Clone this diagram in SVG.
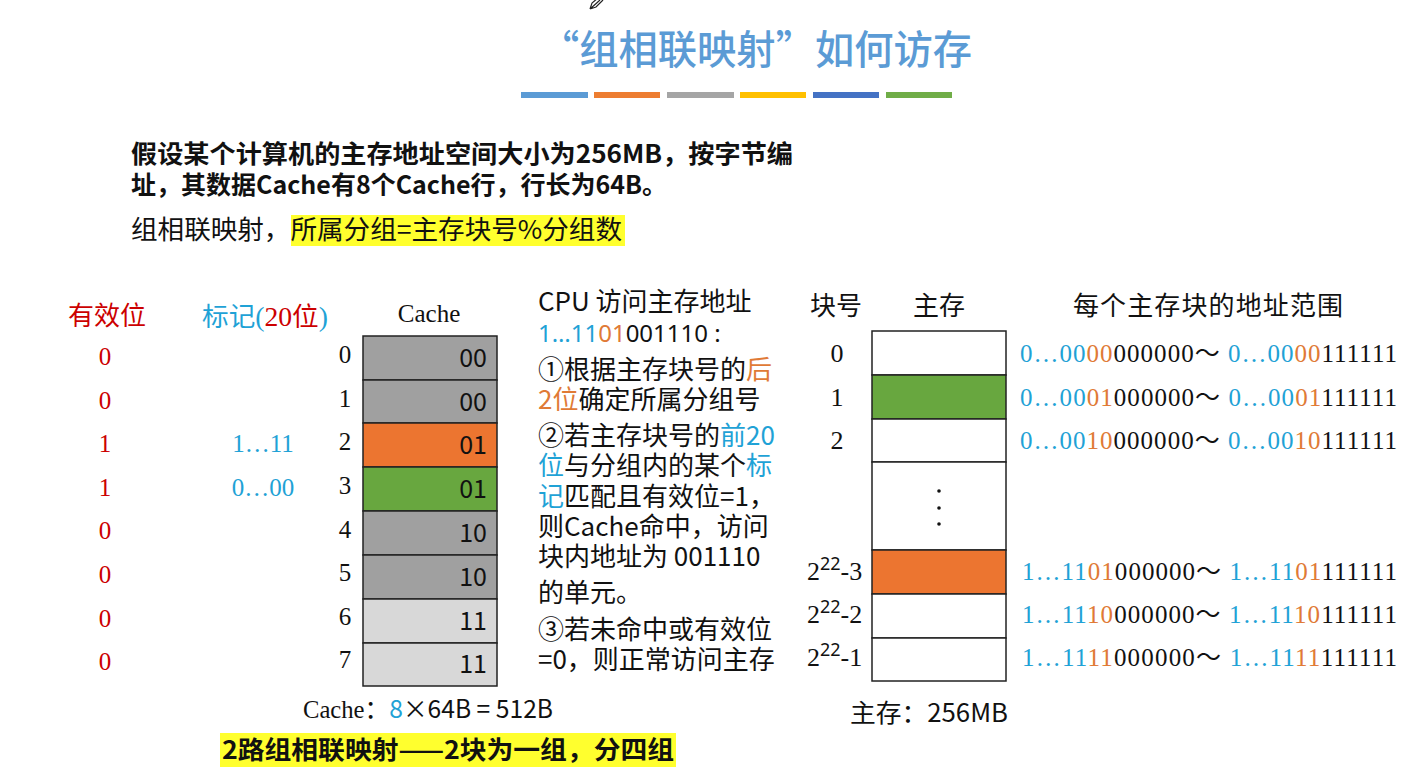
<svg xmlns="http://www.w3.org/2000/svg" width="1422" height="776" viewBox="0 0 1422 776">
<style>
.cjk{font-family:"Noto Sans CJK SC","Noto Sans",sans-serif;}
.lat{font-family:"Noto Sans","Noto Sans CJK SC",sans-serif;}
.ser{font-family:"Liberation Serif","Noto Sans CJK SC",serif;}
.blk{fill:#111;}
.b{fill:#1fa2d6;}
.o{fill:#e07a36;}
.r{fill:#cc0000;}
.cell{stroke:#222;stroke-width:1.5;}
.mem{fill:#fff;stroke:#222;stroke-width:1.5;}
.hl{fill:#ffff2e;}
</style>
<rect width="1422" height="776" fill="#fff"/>
<g id="cursor"><path d="M590 9 L600 0 M590 9 L592 3 L598 -2 M590 9 L596 7 L603 0" fill="none" stroke="#222" stroke-width="1.2"/></g>
<g id="title">
<text x="540" y="64" class="cjk" font-size="40" font-weight="500" fill="#5b9bd5" textLength="432" lengthAdjust="spacingAndGlyphs">“组相联映射”如何访存</text>
<rect x="521" y="92" width="67" height="6" fill="#5b9bd5"/>
<rect x="594" y="92" width="66" height="6" fill="#ed7d31"/>
<rect x="667" y="92" width="67" height="6" fill="#a5a5a5"/>
<rect x="740" y="92" width="66" height="6" fill="#ffc000"/>
<rect x="813" y="92" width="66" height="6" fill="#4472c4"/>
<rect x="886" y="92" width="66" height="6" fill="#70ad47"/>
</g>
<g id="intro" class="cjk blk">
<text x="131" y="163" font-size="25" font-weight="bold" textLength="662" lengthAdjust="spacingAndGlyphs">假设某个计算机的主存地址空间大小为256MB，按字节编</text>
<text x="131" y="194" font-size="25" font-weight="bold">址，其数据Cache有8个Cache行，行长为64B。</text>
<rect class="hl" x="291" y="215" width="334" height="31"/>
<text x="131" y="239" font-size="26" textLength="491" lengthAdjust="spacingAndGlyphs">组相联映射，所属分组=主存块号%分组数</text>
</g>
<g id="valid" class="ser r" font-size="25">
<text x="68" y="325" class="cjk" font-size="26">有效位</text>
<text x="105" y="365" text-anchor="middle">0</text>
<text x="105" y="409" text-anchor="middle">0</text>
<text x="105" y="452" text-anchor="middle">1</text>
<text x="105" y="496" text-anchor="middle">1</text>
<text x="105" y="539" text-anchor="middle">0</text>
<text x="105" y="583" text-anchor="middle">0</text>
<text x="105" y="627" text-anchor="middle">0</text>
<text x="105" y="670" text-anchor="middle">0</text>
</g>
<g id="tag" font-size="27">
<text x="202" y="326" class="ser" textLength="126" lengthAdjust="spacingAndGlyphs"><tspan class="cjk b" font-size="26">标记</tspan><tspan class="b">(</tspan><tspan class="r">20</tspan><tspan class="cjk r" font-size="26">位</tspan><tspan class="b">)</tspan></text>
<text x="263" y="452" text-anchor="middle" class="ser b" font-size="25">1…11</text>
<text x="263" y="496" text-anchor="middle" class="ser b" font-size="25">0…00</text>
</g>
<g id="cache">
<text x="429" y="322" text-anchor="middle" class="ser blk" font-size="25">Cache</text>
<rect class="cell" x="363" y="336" width="134" height="44" fill="#a0a0a0"/>
<rect class="cell" x="363" y="380" width="134" height="43" fill="#a0a0a0"/>
<rect class="cell" x="363" y="423" width="134" height="44" fill="#ec7530"/>
<rect class="cell" x="363" y="467" width="134" height="44" fill="#68a73f"/>
<rect class="cell" x="363" y="511" width="134" height="44" fill="#a0a0a0"/>
<rect class="cell" x="363" y="555" width="134" height="44" fill="#a0a0a0"/>
<rect class="cell" x="363" y="599" width="134" height="44" fill="#d8d8d8"/>
<rect class="cell" x="363" y="643" width="134" height="43" fill="#d8d8d8"/>
<g class="cjk blk" font-size="25" text-anchor="end">
<text x="487" y="367">00</text>
<text x="487" y="411">00</text>
<text x="487" y="454">01</text>
<text x="487" y="498">01</text>
<text x="487" y="542">10</text>
<text x="487" y="586">10</text>
<text x="487" y="630">11</text>
<text x="487" y="673">11</text>
</g>
<g class="ser blk" font-size="25" text-anchor="middle">
<text x="345" y="363">0</text>
<text x="345" y="407">1</text>
<text x="345" y="450">2</text>
<text x="345" y="494">3</text>
<text x="345" y="538">4</text>
<text x="345" y="581">5</text>
<text x="345" y="625">6</text>
<text x="345" y="668">7</text>
</g>
<text x="303" y="718" class="blk" font-size="25" textLength="250" lengthAdjust="spacingAndGlyphs"><tspan class="ser">Cache：</tspan><tspan class="cjk b">8</tspan><tspan class="cjk">×64B = 512B</tspan></text>
<rect class="hl" x="220" y="733" width="456" height="34"/>
<text x="222" y="759" class="cjk blk" font-size="25" font-weight="bold" textLength="452" lengthAdjust="spacingAndGlyphs">2路组相联映射——2块为一组，分四组</text>
</g>
<g id="steps" class="cjk blk" font-size="26">
<text x="538" y="311">CPU 访问主存地址</text>
<text x="538" y="342" class="lat" font-size="24"><tspan class="b">1…11</tspan><tspan class="o">01</tspan><tspan>001110 :</tspan></text>
<text x="538" y="379">①根据主存块号的<tspan class="o">后</tspan></text>
<text x="538" y="409"><tspan class="o">2位</tspan>确定所属分组号</text>
<text x="538" y="445">②若主存块号的<tspan class="b">前20</tspan></text>
<text x="538" y="475"><tspan class="b">位</tspan>与分组内的某个<tspan class="b">标</tspan></text>
<text x="538" y="506"><tspan class="b">记</tspan>匹配且有效位=1，</text>
<text x="538" y="536">则Cache命中，访问</text>
<text x="538" y="566">块内地址为 001110</text>
<text x="538" y="602">的单元。</text>
<text x="538" y="639">③若未命中或有效位</text>
<text x="538" y="669">=0，则正常访问主存</text>
</g>
<g id="memory">
<text x="810" y="315" class="cjk blk" font-size="26">块号</text>
<text x="939" y="315" text-anchor="middle" class="cjk blk" font-size="26">主存</text>
<text x="1073" y="315" class="cjk blk" font-size="26" textLength="270" lengthAdjust="spacing">每个主存块的地址范围</text>
<rect class="mem" x="872" y="331" width="134" height="44"/>
<rect class="mem" x="872" y="375" width="134" height="44" style="fill:#68a73f"/>
<rect class="mem" x="872" y="419" width="134" height="43"/>
<rect class="mem" x="872" y="462" width="134" height="88"/>
<rect class="mem" x="872" y="550" width="134" height="44" style="fill:#ec7530"/>
<rect class="mem" x="872" y="594" width="134" height="44"/>
<rect class="mem" x="872" y="638" width="134" height="43"/>
<circle cx="939" cy="491" r="1.8" fill="#111"/>
<circle cx="939" cy="508" r="1.8" fill="#111"/>
<circle cx="939" cy="524" r="1.8" fill="#111"/>
<g class="ser blk" font-size="26">
<text x="837" y="362" text-anchor="middle">0</text>
<text x="837" y="406" text-anchor="middle">1</text>
<text x="837" y="449" text-anchor="middle">2</text>
<text x="807" y="580" class="blk">2<tspan class="lat" font-size="18" dy="-10">22</tspan><tspan dy="10">-3</tspan></text>
<text x="807" y="623" class="blk">2<tspan class="lat" font-size="18" dy="-10">22</tspan><tspan dy="10">-2</tspan></text>
<text x="807" y="666" class="blk">2<tspan class="lat" font-size="18" dy="-10">22</tspan><tspan dy="10">-1</tspan></text>
</g>
<g class="ser blk" font-size="25">
<text x="1020" y="362" textLength="377" lengthAdjust="spacing"><tspan class="b">0…00</tspan><tspan class="o">00</tspan>000000～ <tspan class="b">0…00</tspan><tspan class="o">00</tspan>111111</text>
<text x="1020" y="406" textLength="377" lengthAdjust="spacing"><tspan class="b">0…00</tspan><tspan class="o">01</tspan>000000～ <tspan class="b">0…00</tspan><tspan class="o">01</tspan>111111</text>
<text x="1020" y="449" textLength="377" lengthAdjust="spacing"><tspan class="b">0…00</tspan><tspan class="o">10</tspan>000000～ <tspan class="b">0…00</tspan><tspan class="o">10</tspan>111111</text>
<text x="1022" y="580" textLength="375" lengthAdjust="spacing"><tspan class="b">1…11</tspan><tspan class="o">01</tspan>000000～ <tspan class="b">1…11</tspan><tspan class="o">01</tspan>111111</text>
<text x="1022" y="623" textLength="375" lengthAdjust="spacing"><tspan class="b">1…11</tspan><tspan class="o">10</tspan>000000～ <tspan class="b">1…11</tspan><tspan class="o">10</tspan>111111</text>
<text x="1022" y="666" textLength="375" lengthAdjust="spacing"><tspan class="b">1…11</tspan><tspan class="o">11</tspan>000000～ <tspan class="b">1…11</tspan><tspan class="o">11</tspan>111111</text>
</g>
<text x="850" y="722" class="cjk blk" font-size="25" textLength="158" lengthAdjust="spacingAndGlyphs">主存：256MB</text>
</g>
</svg>
